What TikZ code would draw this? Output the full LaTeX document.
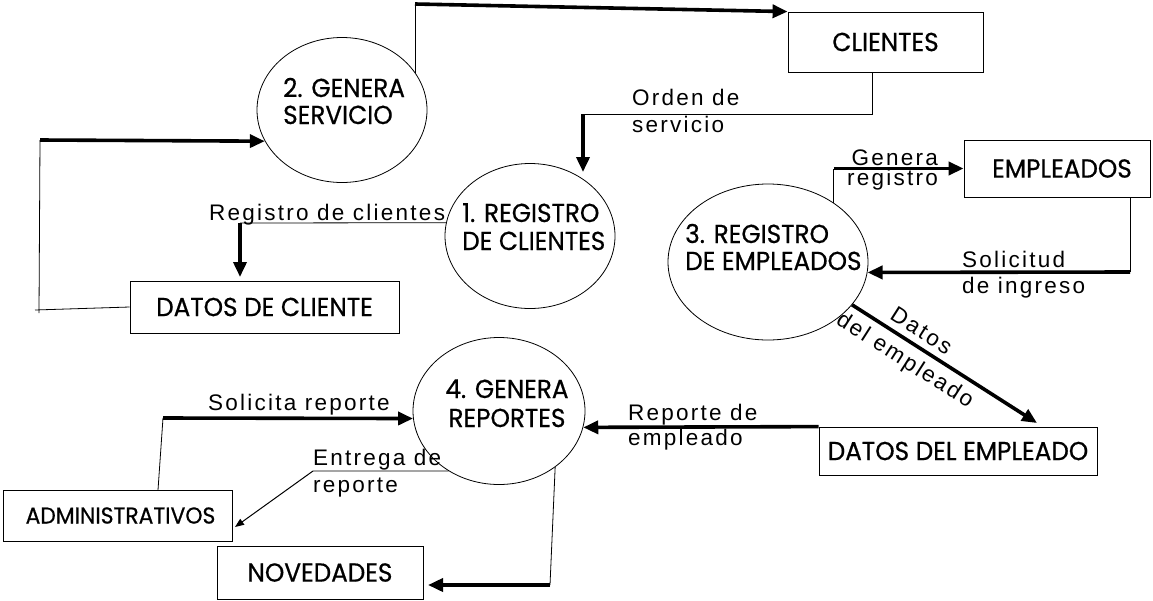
\documentclass[tikz,border=0pt]{standalone}
\usepackage{fontspec}
\setmainfont{Liberation Sans}
\newfontfamily\procfont{Poppins}[FakeStretch=0.95,FakeBold=0.6]
\newfontfamily\labfont{Liberation Sans}[LetterSpace=10]
\usetikzlibrary{arrows.meta,shapes.geometric,calc}
\begin{document}
\begin{tikzpicture}[x=1pt,y=-1pt,
  thinline/.style={line width=0.8pt},
  flow/.style={line width=3.6pt,-{Triangle[length=15pt,width=13pt]}},
  thinflow/.style={line width=1pt,-{Triangle[length=9pt,width=7pt]}},
  proc/.style={ellipse,draw,line width=0.8pt,inner sep=0pt},
  store/.style={rectangle,draw,line width=0.8pt,font=\procfont\fontsize{26}{30}\selectfont,inner sep=0pt},
  ptext/.style={font=\procfont\fontsize{26}{30}\selectfont,anchor=base west,inner sep=0pt},
  lab/.style={font=\labfont\fontsize{22.5}{27}\selectfont,anchor=base west,inner sep=0pt}]

\useasboundingbox (0,0) rectangle (1153,600);

% processes
\node[proc,minimum width=170pt,minimum height=145pt] (p2) at (342,110) {};
\node[ptext] (p2a) at (283,97) {2. GENERA};
\node[ptext] (p2b) at (283,124) {SERVICIO};

\node[proc,minimum width=170pt,minimum height=145pt] (p1) at (530,236) {};
\node[ptext] (p1a) at (462,222) {1. REGISTRO};
\node[ptext] (p1b) at (462,250) {DE CLIENTES};

\node[proc,minimum width=200pt,minimum height=156pt] (p3) at (768,262) {};
\node[ptext] (p3a) at (685,243) {3. REGISTRO};
\node[ptext] (p3b) at (685,270) {DE EMPLEADOS};

\node[proc,minimum width=172pt,minimum height=147pt] (p4) at (499,411) {};
\node[ptext,anchor=base] (p4a) at (507,398) {4. GENERA};
\node[ptext,anchor=base] (p4b) at (507,427) {REPORTES};

% stores / entities
\node[store,minimum width=195pt,minimum height=60pt] (clientes) at (885.5,42) {CLIENTES};
\node[store,minimum width=186pt,minimum height=57pt] (empleados) at (1057,168.5) {\hspace{10pt}EMPLEADOS};
\node[store,minimum width=269pt,minimum height=52pt] (datoscli) at (264.5,307) {DATOS DE CLIENTE};
\node[store,minimum width=278pt,minimum height=48pt] (datosemp) at (958,451) {DATOS DEL EMPLEADO};
\node[store,minimum width=229pt,minimum height=51pt,font=\procfont\fontsize{23}{27}\selectfont] (admin) at (117.5,515.5) {\hspace{6pt}ADMINISTRATIVOS};
\node[store,minimum width=206pt,minimum height=53pt] (noved) at (320,572.5) {NOVEDADES};

% 1: genera servicio -> clientes
\coordinate (c1a) at (415,4);
\draw[thinline] (p2.27) -- (p2.27 |- c1a);
\draw[flow] (c1a) -- (clientes.north west);

% 2: clientes -> registro de clientes
\coordinate (c2a) at (872,114);
\coordinate (c2b) at (583,114);
\coordinate (c2c) at (583,172);
\draw[thinline] (clientes.south -| c2a) -- (c2a) -- (c2b);
\draw[flow] (c2b) -- (c2c);
\node[lab] (l1a) at (632,105) {Orden de};
\node[lab] (l1b) at (632,132) {servicio};

% 3: datos de cliente -> genera servicio
\coordinate (c3a) at (35,310);
\coordinate (c3d) at (39,313);
\coordinate (c3b) at (40,140);
\draw[thinline] (datoscli.west) -- (c3a);
\draw[thinline] (c3d) -- (c3b);
\draw[flow] (c3b) -- (p2.202);

% 4: registro de clientes -> datos de cliente
\coordinate (c4a) at (240,223);
\coordinate (c4b) at (240,277);
\draw[thinline] (p1.171) -- (c4a);
\draw[flow] (c4a) -- (c4b);
\node[lab] (l2) at (209,220) {Registro de clientes};

% 5: registro de empleados -> empleados
\draw[thinline] (p3.42) -- (empleados.west -| p3.42);
\draw[flow] (empleados.west -| p3.42) -- (empleados.west);
\node[lab,anchor=base east] (l3a) at (938,165) {Genera};
\node[lab,anchor=base east] (l3b) at (938,185) {registro};

% 6: empleados -> registro de empleados
\coordinate (c6a) at (1130,272);
\draw[thinline] (empleados.south -| c6a) -- (c6a);
\draw[flow] (c6a) -- (p3.-6);
\node[lab] (l4a) at (962,267) {Solicitud};
\node[lab] (l4b) at (962,293) {de ingreso};

% 7: registro de empleados -> datos del empleado
\coordinate (c7a) at (1037,423);
\draw[flow] (p3.-27) -- (c7a)
  node[lab,sloped,pos=0.33,above=6pt] (l8a) {Datos}
  node[lab,sloped,pos=0.34,below=7pt] (l8b) {del empleado};

% 8: datos del empleado -> genera reportes
\draw[flow] (datosemp.north west) -- (p4.-11);
\node[lab] (l5a) at (628,420) {Reporte de};
\node[lab] (l5b) at (628,445) {empleado};

% 9: administrativos -> genera reportes
\coordinate (c9a) at (158,490);
\coordinate (c9b) at (163,418);
\draw[thinline] (c9a) -- (c9b);
\draw[flow] (c9b) -- (p4.185);
\node[lab] (l6) at (208,410) {Solicita reporte};

% 10: genera reportes -> administrativos
\coordinate (c10a) at (313,471);
\coordinate (c10b) at (235,527);
\draw[thinline] (p4.230) -- (c10a);
\draw[thinflow] (c10a) -- (c10b);
\node[lab] (l7a) at (313,465) {Entrega de};
\node[lab] (l7b) at (313,492) {reporte};

% 11: genera reportes -> novedades
\coordinate (c11a) at (550,585);
\coordinate (c11b) at (428,585);
\draw[thinline] (p4.-45) -- (c11a);
\draw[flow] (c11a) -- (c11b);
\end{tikzpicture}
\end{document}
